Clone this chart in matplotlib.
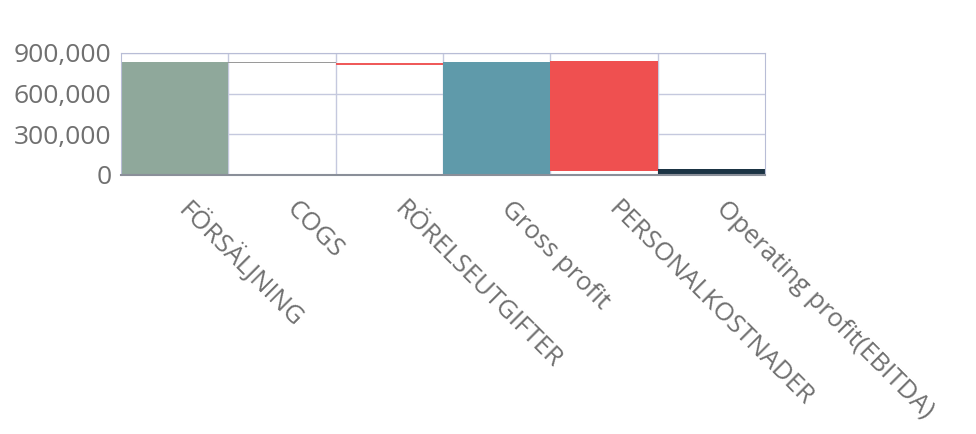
import numpy as np
import matplotlib
matplotlib.use("Agg")
import matplotlib.pyplot as plt
from matplotlib.ticker import FuncFormatter

plt.rcParams['font.family'] = ['Open Sans', 'DejaVu Sans']

# waterfall data: start and end value of each step
categories = ['FÖRSÄLJNING', 'COGS', 'RÖRELSEUTGIFTER', 'Gross profit',
              'PERSONALKOSTNADER', 'Operating profit(EBITDA)']
starts = [0, 832000, 828000, 0, 838000, 0]
ends = [832000, 828000, 808000, 835000, 32000, 40000]
colors = ['#8fa89b', '#9a9a9a', '#ef5a5a', '#5f9aaa', '#ef5050', '#1b3444']

yticks = [0, 300000, 600000, 900000]

fig = plt.figure(figsize=(9.76, 4.34), dpi=100)
ax = fig.add_axes([0.124, 0.597, 0.66, 0.281])

x = np.arange(len(categories))
bottoms = [min(s, e) for s, e in zip(starts, ends)]
heights = [abs(e - s) for s, e in zip(starts, ends)]
ax.bar(x, heights, bottom=bottoms, width=1.0, color=colors, zorder=2)

ax.set_xlim(-0.5, len(categories) - 0.5)
ax.set_ylim(0, 900000)
ax.set_yticks(yticks)
ax.yaxis.set_major_formatter(FuncFormatter(lambda v, p: '{:,.0f}'.format(v)))

# grid lines between categories
for b in np.arange(0.5, len(categories) - 0.5, 1):
    ax.axvline(b, color='#c5c9de', lw=1, zorder=1)
ax.grid(axis='y', color='#c5c9de', lw=1, zorder=1)

for s in ax.spines.values():
    s.set_color('#b8bdd6')
ax.spines['bottom'].set_color('#8a8f99')
ax.spines['bottom'].set_linewidth(1.5)

ax.tick_params(axis='y', length=0, labelsize=19, labelcolor='#707070', pad=7)
ax.set_xticks(x)
ax.set_xticklabels([])
ax.tick_params(axis='x', length=0)

for i, c in enumerate(categories):
    ax.annotate(c, xy=(i, 0), xycoords=('data', 'axes fraction'),
                xytext=(6, -22), textcoords='offset points',
                rotation=-45, rotation_mode='anchor', ha='left', va='center',
                fontsize=18.5, color='#707070')

fig.savefig('out.png', dpi=100)
